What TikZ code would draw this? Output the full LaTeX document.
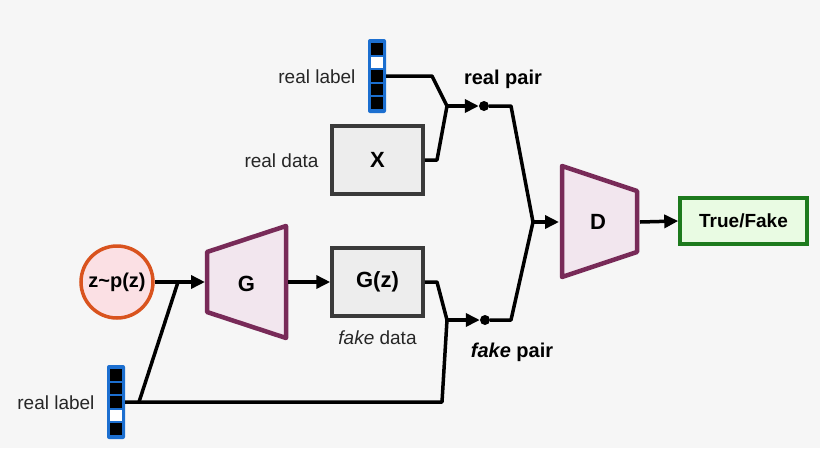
\documentclass[tikz,border=0pt]{standalone}
\usepackage{fontspec}
\setmainfont{Liberation Sans}
\usetikzlibrary{arrows.meta}
\definecolor{bg}{HTML}{F6F6F6}
\definecolor{boxfill}{HTML}{EDEDED}
\definecolor{boxline}{HTML}{3A3A3A}
\definecolor{netline}{HTML}{782A58}
\definecolor{netfill}{HTML}{F2E6EE}
\definecolor{zline}{HTML}{D9531E}
\definecolor{zfill}{HTML}{FBE0E4}
\definecolor{gline}{HTML}{1D7A1D}
\definecolor{gfill}{HTML}{E9FBE3}
\definecolor{vblue}{HTML}{1C6FD0}
\begin{document}
\begin{tikzpicture}[x=1pt,y=-1pt,
  wire/.style={line width=3.5pt,black,line join=round},
  arr/.style={wire,-{Triangle[length=14pt,width=13pt]}},
  databox/.style={draw=boxline,fill=boxfill,line width=3.5pt,minimum width=91pt,font=\bfseries\fontsize{22}{24}\selectfont,inner sep=0pt},
  net/.style={draw=netline,fill=netfill,line width=4.5pt,line join=round},
  lbl/.style={font=\fontsize{19}{22}\selectfont,text=black!85},
  dot/.style={circle,fill=black,inner sep=0pt,minimum size=10pt}]
\useasboundingbox[fill=bg] (0,0) rectangle (820,448);
% boxes
\node[databox,minimum height=68pt] (X) at (377.5,160) {X};
\node[databox,minimum height=68pt] (Gz) at (377.5,282) {G(z)};
\node[circle,draw=zline,fill=zfill,line width=3.5pt,minimum size=72pt,inner sep=0pt,font=\bfseries\fontsize{20}{22}\selectfont] (z) at (117,282) {z\char`\~p(z)};
\node[draw=gline,fill=gfill,line width=3.5pt,minimum width=127pt,minimum height=46pt,inner sep=0pt,font=\bfseries\fontsize{19}{22}\selectfont] (TF) at (743.5,221) {True/Fake};
% trapezoids
\draw[net] (207,252) -- (286,226) -- (286,338) -- (207,312) -- cycle;
\node[font=\bfseries\fontsize{22}{24}\selectfont] (G) at (246.5,284) {G};
\coordinate (Gin) at (205,282); \coordinate (Gout) at (288,282);
\draw[net] (562,166) -- (637,191) -- (637,252) -- (562,277) -- cycle;
\node[font=\bfseries\fontsize{22}{24}\selectfont] (D) at (598,222) {D};
\coordinate (Din) at (559,222); \coordinate (Dout) at (640,222);
% label vectors
\newcommand{\labelvec}[3]{% x, ytop, pattern via foreach list of white indices
  \fill[vblue,rounded corners=2pt] (#1-9,#2-3) rectangle (#1+9,#2+71);
  \foreach \i in {0,...,4}{
    \fill[black] (#1-6,#2+\i*13.6+1) rectangle (#1+6,#2+\i*13.6+12.6);}
  \fill[white] (#1-6,#2+#3*13.6+1) rectangle (#1+6,#2+#3*13.6+12.6);
}
\labelvec{377}{42}{1}
\labelvec{116}{368}{3}
\coordinate (L1) at (386,76);
\coordinate (L2) at (125,402);
\node[lbl,anchor=east] (rl1) at (359,77) {real label};
\node[lbl,anchor=east] (rl2) at (98,403) {real label};
\node[lbl,anchor=east] (rd) at (322,161) {real data};
\node[lbl] (fd) at (377.5,338) {\textit{fake} data};
\node[font=\bfseries\fontsize{20}{22}\selectfont] (rp) at (503,79) {real pair};
\node[font=\bfseries\fontsize{20}{22}\selectfont] (fp) at (512,352) {\textit{fake} pair};
% junctions
\coordinate (j1) at (447,106);
\coordinate (j2) at (447,320);
\coordinate (j3) at (533,222);
\coordinate (j4) at (178,282);
\node[dot] (d1) at (484,106) {};
\node[dot] (d2) at (485,320) {};
% wires
\draw[wire] (L1) -- (432,76) -- (j1);
\draw[wire] (X.east) -- (437,160) -- (j1);
\draw[arr] (j1) -- (d1.west);
\draw[wire] (Gz.east) -- (437,282) -- (j2);
\draw[wire] (L2) -- (442,402) -- (j2);
\draw[arr] (j2) -- (d2.west);
\draw[wire] (d1) -- (511,106) -- (j3);
\draw[wire] (d2) -- (511,320) -- (j3);
\draw[arr] (j3) -- (Din);
\draw[wire] (z.east) -- (j4);
\draw[wire] (139,402) -- (j4);
\draw[arr] (j4) -- (Gin);
\draw[arr] (Gout) -- (Gz.west);
\draw[arr] (Dout) -- (TF.west);
\end{tikzpicture}
\end{document}
